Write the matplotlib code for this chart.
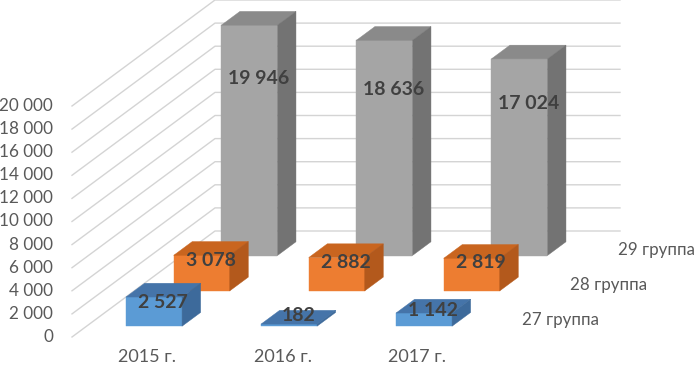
#!/usr/bin/env python3

import matplotlib.pyplot as plt
from matplotlib.patches import Polygon
from matplotlib.transforms import offset_copy

years = ["2015 г.", "2016 г.", "2017 г."]
groups = ["27 группа", "28 группа", "29 группа"]
g27 = [2527, 182, 1142]
g28 = [3078, 2882, 2819]
g29 = [19946, 18636, 17024]
yticks = list(range(0, 20001, 2000))

# front, top, side colours for each row
colors = [
    ("#5b9bd5", "#4574a9", "#3d6a9b"),
    ("#ed7d31", "#c9651f", "#b3591c"),
    ("#a5a5a5", "#8a8a8a", "#737373"),
]
label_frac = [0.5, 0.65, 0.74]

PX_X = 135.0      # pixels per category
PX_Y = 0.01155    # pixels per value unit
X0, Y0 = 72, 337  # front-left-bottom corner in pixels
DX = 143 / PX_X   # depth shift in category units
DY = 106 / PX_Y   # depth shift in value units
BAR_W = 0.415
BAR_D = 0.13


def proj(x, v, d):
    return (x + d * DX, v + d * DY)


def fmt(v):
    return "{:,}".format(v).replace(",", " ")


def draw_box(ax, xc, v, dc, cols):
    xl, xr = xc - BAR_W / 2, xc + BAR_W / 2
    d0, d1 = dc - BAR_D / 2, dc + BAR_D / 2
    front = [proj(xl, 0, d0), proj(xr, 0, d0), proj(xr, v, d0), proj(xl, v, d0)]
    top = [proj(xl, v, d0), proj(xr, v, d0), proj(xr, v, d1), proj(xl, v, d1)]
    side = [proj(xr, 0, d0), proj(xr, 0, d1), proj(xr, v, d1), proj(xr, v, d0)]
    for pts, c in zip([front, top, side], cols):
        ax.add_patch(Polygon(pts, closed=True, facecolor=c, edgecolor=c,
                             linewidth=0.3, zorder=3))


def main():
    plt.rcParams["font.family"] = ["Lato", "DejaVu Sans"]
    fig = plt.figure(figsize=(6.98, 3.68), dpi=100)
    ax = fig.add_axes([0, 0, 1, 1])
    ax.set_xlim(-X0 / PX_X, (698 - X0) / PX_X)
    ax.set_ylim((Y0 - 368) / PX_Y, Y0 / PX_Y)
    ax.axis("off")

    n = len(years)
    grid = "#d4d4d4"
    for v in yticks:
        a = proj(0, v, 0)
        b = proj(0, v, 1)
        c = proj(n, v, 1)
        ax.plot([a[0], b[0], c[0]], [a[1], b[1], c[1]], color=grid,
                linewidth=1, zorder=1)
        tr = offset_copy(ax.transData, fig=fig, x=-19, y=0, units="dots")
        ax.text(a[0], a[1], fmt(v), transform=tr, ha="right", va="center",
                fontsize=12.3, color="#595959")

    series = [g27, g28, g29]
    # back rows first
    for r in reversed(range(len(series))):
        dc = (r + 0.5) / len(series)
        for i, v in enumerate(series[r]):
            draw_box(ax, i + 0.5, v, dc, colors[r])

    for r, vals in enumerate(series):
        dc = (r + 0.5) / len(series)
        for i, v in enumerate(vals):
            px, py = proj(i + 0.5, v * label_frac[r], dc)
            if r == 0:
                py = proj(0, v * 0.5, dc)[1] + 200
            ax.text(px, py, fmt(v), ha="center", va="center", fontsize=14,
                    fontweight="bold", color="#404040", zorder=5)

    for i, y in enumerate(years):
        tr = offset_copy(ax.transData, fig=fig, x=8, y=-20, units="dots")
        ax.text(i + 0.5, 0, y, transform=tr, ha="center", va="center",
                fontsize=13, color="#595959")

    for r, g in enumerate(groups):
        px, py = proj(n, 0, (r + 0.5) / len(groups))
        tr = offset_copy(ax.transData, fig=fig, x=60, y=-1, units="dots")
        ax.text(px, py, g, transform=tr, ha="center", va="center",
                fontsize=12.2, color="#595959")

    fig.savefig("out.png", dpi=100)


if __name__ == "__main__":
    main()
